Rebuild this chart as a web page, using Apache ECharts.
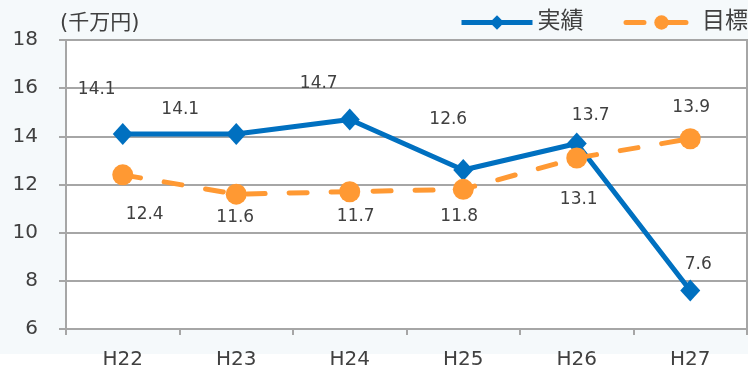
<!DOCTYPE html>
<html>
<head>
<meta charset="utf-8">
<script src="https://cdn.jsdelivr.net/npm/echarts@6/dist/echarts.min.js"></script>
<style>
  html, body { margin: 0; padding: 0; background: #fff; }
  #chart { width: 748px; height: 368px; }
</style>
</head>
<body>
<div id="chart"></div>
<script>
// Fiscal years (Heisei) and amounts in 千万円
const categories = ['H22', 'H23', 'H24', 'H25', 'H26', 'H27'];
const actual = [14.1, 14.1, 14.7, 12.6, 13.7, 7.6];   // 実績
const target = [12.4, 11.6, 11.7, 11.8, 13.1, 13.9];  // 目標
const yTicks = { min: 6, max: 18, step: 2 };

// Where each value label sits relative to its point (px)
const actualLabelShift = [[-26, -44], [-56, -24], [-31, -36], [-15, -50], [14, -28], [8, -26]];
const targetLabelShift = [[22, 40], [-1, 23], [6, 25], [-4, 27], [2, 42], [1, -31]];

const FONT = '"DejaVu Sans", "Noto Sans CJK JP", sans-serif';
const TEXT = '#404040';
const GRID = '#a6a6a6';

function withLabels(values, shifts) {
  return values.map((v, i) => ({ value: v, label: { offset: shifts[i] } }));
}

const chart = echarts.init(document.getElementById('chart'), null, { renderer: 'canvas' });
chart.setOption({
  animation: false,
  backgroundColor: {
    type: 'linear', x: 0, y: 0, x2: 0, y2: 1,
    colorStops: [
      { offset: 0, color: '#f5f9fb' },
      { offset: 0.962, color: '#f5f9fb' },
      { offset: 0.962, color: '#ffffff' },
      { offset: 1, color: '#ffffff' }
    ]
  },
  textStyle: { fontFamily: FONT },
  title: {
    text: '(千万円)',
    left: 55, top: 8,
    textStyle: { fontFamily: FONT, fontSize: 21, fontWeight: 'normal', color: TEXT }
  },
  legend: {
    right: 0, top: 11, padding: 0,
    itemWidth: 71, itemHeight: 18, itemGap: 40,
    lineStyle: { width: 5 },
    textStyle: { fontFamily: FONT, fontSize: 23, color: TEXT },
    data: ['実績', '目標']
  },
  grid: {
    left: 66, right: 1, top: 40, bottom: 39,
    outerBoundsMode: 'none',
    containLabel: false,
    show: true, backgroundColor: '#ffffff', borderColor: GRID, borderWidth: 2
  },
  xAxis: {
    type: 'category',
    data: categories,
    boundaryGap: true,
    axisLine: { lineStyle: { color: GRID, width: 2 } },
    axisTick: { show: true, length: 6, lineStyle: { color: GRID, width: 2 } },
    axisLabel: { color: TEXT, fontSize: 20, fontFamily: FONT, margin: 21 }
  },
  yAxis: {
    type: 'value',
    min: yTicks.min, max: yTicks.max, interval: yTicks.step,
    axisLine: { show: true, lineStyle: { color: GRID, width: 2 } },
    axisTick: { show: true, length: 7, lineStyle: { color: GRID, width: 2 } },
    splitLine: { lineStyle: { color: GRID, width: 2 } },
    axisLabel: { color: TEXT, fontSize: 20, fontFamily: FONT, margin: 28 }
  },
  series: [
    {
      name: '実績',
      type: 'line',
      data: withLabels(actual, actualLabelShift),
      symbol: 'diamond',
      symbolSize: [20, 22],
      itemStyle: { color: '#0070c0' },
      lineStyle: { color: '#0070c0', width: 5 },
      label: {
        show: true, position: 'inside',
        color: TEXT, fontSize: 17, fontFamily: FONT
      },
      z: 2
    },
    {
      name: '目標',
      type: 'line',
      data: withLabels(target, targetLabelShift),
      symbol: 'circle',
      symbolSize: 21,
      itemStyle: { color: '#ff9933' },
      lineStyle: { color: '#ff9933', width: 5, type: [18, 24], cap: 'round' },
      label: {
        show: true, position: 'inside',
        color: TEXT, fontSize: 17, fontFamily: FONT
      },
      z: 3
    }
  ]
});
</script>
</body>
</html>
